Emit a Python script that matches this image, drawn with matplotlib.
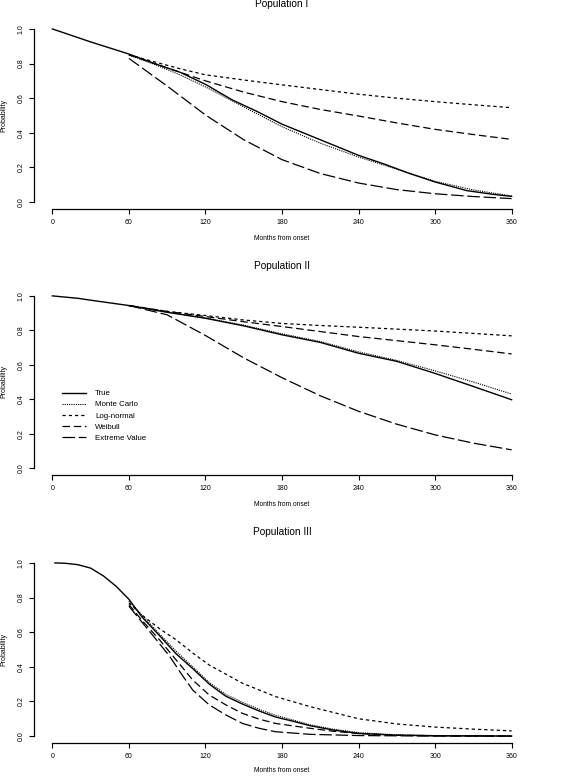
import matplotlib
matplotlib.use("Agg")
import matplotlib.pyplot as plt

plt.rcParams['font.family'] = ['Liberation Sans', 'DejaVu Sans']

# ---------------- data ----------------
titles = ["Population I", "Population II", "Population III"]
xticks = [0, 60, 120, 180, 240, 300, 360]
yticks = [0.0, 0.2, 0.4, 0.6, 0.8, 1.0]
ytick_labels = ["0.0", "0.2", "0.4", "0.6", "0.8", "1.0"]
series_names = ["True", "Monte Carlo", "Log-normal", "Weibull", "Extreme Value"]

# Population I
true_m1 = [0, 30, 60, 80, 100, 120, 141, 160, 180, 200, 220, 240, 260, 280, 300, 325, 345, 360]
true_v1 = [1.0, 0.925, 0.855, 0.80, 0.75, 0.68, 0.59, 0.525, 0.45, 0.39, 0.33, 0.27, 0.22, 0.165, 0.116, 0.066, 0.045, 0.033]
mc_m1 = [60, 80, 100, 120, 150, 180, 210, 240, 270, 300, 330, 360]
mc_v1 = [0.85, 0.795, 0.735, 0.665, 0.55, 0.435, 0.34, 0.26, 0.19, 0.12, 0.07, 0.035]
ln_m1 = [60, 80, 100, 120, 150, 180, 210, 240, 270, 300, 330, 360]
ln_v1 = [0.85, 0.81, 0.77, 0.735, 0.705, 0.677, 0.65, 0.623, 0.60, 0.58, 0.562, 0.545]
wb_m1 = [60, 80, 100, 120, 150, 180, 210, 240, 270, 300, 330, 360]
wb_v1 = [0.85, 0.80, 0.75, 0.70, 0.635, 0.58, 0.535, 0.497, 0.457, 0.42, 0.39, 0.362]
ev_m1 = [60, 90, 120, 150, 180, 210, 240, 270, 300, 330, 360]
ev_v1 = [0.83, 0.67, 0.503, 0.36, 0.245, 0.165, 0.11, 0.072, 0.048, 0.032, 0.02]

# Population II
true_m2 = [0, 20, 30, 60, 90, 120, 150, 180, 210, 240, 270, 300, 330, 360]
true_v2 = [1.0, 0.986, 0.975, 0.944, 0.905, 0.87, 0.826, 0.774, 0.73, 0.667, 0.62, 0.55, 0.474, 0.397]
mc_m2 = [60, 90, 120, 150, 180, 210, 240, 270, 300, 330, 360]
mc_v2 = [0.944, 0.905, 0.872, 0.83, 0.78, 0.735, 0.675, 0.625, 0.565, 0.50, 0.43]
ln_m2 = [60, 90, 120, 150, 180, 210, 240, 270, 300, 330, 360]
ln_v2 = [0.944, 0.91, 0.886, 0.86, 0.84, 0.828, 0.818, 0.807, 0.796, 0.782, 0.768]
wb_m2 = [60, 90, 120, 150, 180, 210, 240, 270, 300, 330, 360]
wb_v2 = [0.944, 0.91, 0.88, 0.85, 0.822, 0.793, 0.764, 0.74, 0.716, 0.69, 0.663]
ev_m2 = [60, 90, 120, 150, 180, 210, 240, 270, 300, 330, 360]
ev_v2 = [0.944, 0.89, 0.77, 0.64, 0.525, 0.42, 0.33, 0.255, 0.193, 0.145, 0.106]

# Population III
true_m3 = [2, 10, 20, 30, 40, 50, 60, 70, 84, 97, 110, 123, 136, 149, 162, 175, 189, 202, 220, 240, 270, 300, 360]
true_v3 = [1.0, 0.998, 0.99, 0.97, 0.925, 0.865, 0.79, 0.69, 0.58, 0.475, 0.39, 0.30, 0.23, 0.185, 0.145, 0.11, 0.085, 0.06, 0.035, 0.015, 0.005, 0.002, 0.0]
mc_m3 = [60, 70, 84, 97, 110, 123, 136, 149, 162, 175, 189, 202, 220, 240, 270, 300, 360]
mc_v3 = [0.78, 0.70, 0.59, 0.49, 0.40, 0.31, 0.24, 0.195, 0.155, 0.12, 0.092, 0.065, 0.04, 0.02, 0.007, 0.003, 0.0]
ln_m3 = [60, 70, 84, 97, 110, 123, 149, 175, 202, 240, 270, 300, 330, 360]
ln_v3 = [0.77, 0.70, 0.62, 0.556, 0.48, 0.41, 0.305, 0.228, 0.17, 0.10, 0.07, 0.052, 0.04, 0.03]
wb_m3 = [60, 70, 84, 97, 110, 123, 136, 149, 162, 175, 202, 220, 240, 270, 300, 360]
wb_v3 = [0.76, 0.67, 0.556, 0.44, 0.324, 0.237, 0.18, 0.131, 0.098, 0.073, 0.045, 0.028, 0.015, 0.005, 0.002, 0.0]
ev_m3 = [60, 70, 80, 92, 101, 110, 123, 136, 149, 162, 175, 202, 240, 300, 360]
ev_v3 = [0.75, 0.66, 0.57, 0.46, 0.36, 0.266, 0.18, 0.122, 0.073, 0.045, 0.025, 0.01, 0.003, 0.0, 0.0]

panels = [
    [(true_m1, true_v1), (mc_m1, mc_v1), (ln_m1, ln_v1), (wb_m1, wb_v1), (ev_m1, ev_v1)],
    [(true_m2, true_v2), (mc_m2, mc_v2), (ln_m2, ln_v2), (wb_m2, wb_v2), (ev_m2, ev_v2)],
    [(true_m3, true_v3), (mc_m3, mc_v3), (ln_m3, ln_v3), (wb_m3, wb_v3), (ev_m3, ev_v3)],
]

# ---------------- styles ----------------
styles = [
    dict(linestyle='-', lw=1.0),
    dict(dashes=(1.0, 1.0), lw=0.8),
    dict(dashes=(2.6, 2.4), lw=0.9),
    dict(dashes=(6.0, 3.0), lw=0.9),
    dict(dashes=(10.0, 3.0), lw=0.9),
]

W, H = 561, 776
fig = plt.figure(figsize=(W / 100, H / 100), dpi=100)

# axes boxes in pixels: (left, top, right, bottom)
boxes = [(34, 22, 530, 209), (34, 289, 530, 475), (34, 556, 530, 743)]
title_y = [4, 266, 532]
xlabel_y = [239, 505, 771]

for i, (box, data) in enumerate(zip(boxes, panels)):
    l, t, r, b = box
    ax = fig.add_axes([l / W, 1 - b / H, (r - l) / W, (b - t) / H])
    lines = []
    for (m, v), st, name in zip(data, styles, series_names):
        ln, = ax.plot(m, v, color='black', label=name, **st)
        lines.append(ln)
    ax.set_xlim(-14.4, 374.4)
    ax.set_ylim(-0.04, 1.04)
    for s in ['top', 'right']:
        ax.spines[s].set_visible(False)
    ax.spines['left'].set_bounds(0, 1)
    ax.spines['bottom'].set_bounds(0, 360)
    ax.spines['left'].set_linewidth(0.9)
    ax.spines['bottom'].set_linewidth(0.9)
    ax.set_xticks(xticks)
    ax.set_xticklabels([str(x) for x in xticks], fontsize=5)
    ax.set_yticks(yticks)
    ax.set_yticklabels(ytick_labels, fontsize=5, rotation=90, va='center')
    ax.tick_params(axis='both', direction='out', length=3.5, width=0.8, pad=3.5)
    ax.set_ylabel("Probability", fontsize=5, labelpad=7)
    fig.text(282 / W, 1 - title_y[i] / H, titles[i], ha='center', va='center', fontsize=7.3)
    fig.text(282 / W, 1 - xlabel_y[i] / H, "Months from onset", ha='center', va='center', fontsize=4.8)
    if i == 1:
        ax.legend(handles=lines, loc='upper left', bbox_to_anchor=(0.051, 0.475),
                  frameon=False, fontsize=5.7, handlelength=3.0, handletextpad=1.1,
                  labelspacing=0.45, borderaxespad=0.0)

fig.savefig("out.png", dpi=100, facecolor='white')
